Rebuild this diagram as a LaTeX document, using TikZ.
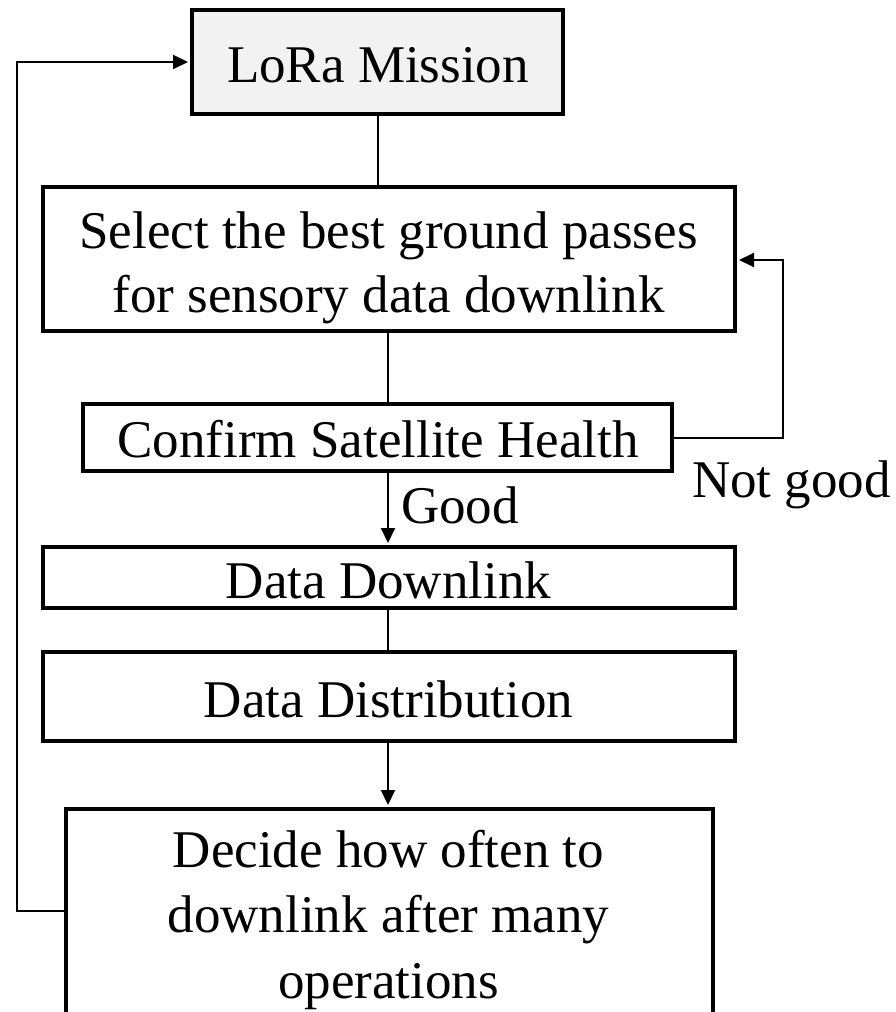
\documentclass[tikz,border=0pt]{standalone}
\usepackage{fontspec}
\setmainfont{Liberation Serif}
\usetikzlibrary{arrows.meta}
\definecolor{boxgray}{HTML}{F2F2F2}
\begin{document}
\begin{tikzpicture}[x=1pt,y=-1pt,
  stagebox/.style={draw=black, line width=4pt, rectangle, inner sep=0pt, minimum width=#1},
  txt/.style={anchor=base, inner sep=0pt, font=\fontsize{53}{64}\selectfont},
  link/.style={line width=2pt},
  flow/.style={line width=2pt, -{Triangle[length=15pt,width=14pt]}, shorten >=2pt}
]
\useasboundingbox (0,0) rectangle (896,1012);
\clip (0,0) rectangle (896,1012);

% process boxes
\node[stagebox=371pt, minimum height=104pt, fill=boxgray] (lora) at (377.5,62) {};
\node[stagebox=692pt, minimum height=144pt] (sel)  at (389,259) {};
\node[stagebox=589pt, minimum height=67pt]  (conf) at (377.5,437.5) {};
\node[stagebox=692pt, minimum height=61pt]  (down) at (389,577.5) {};
\node[stagebox=692pt, minimum height=89pt]  (dist) at (389,696.5) {};
\node[stagebox=647pt, minimum height=231pt] (dec)  at (389.5,924.5) {};

% box texts
\node[txt] (tlora) at (378,82) {LoRa Mission};
\node[txt] (tsel1) at (388.5,248) {Select the best ground passes};
\node[txt] (tsel2) at (388.5,312) {for sensory data downlink};
\node[txt] (tconf) at (378,457) {Confirm Satellite Health};
\node[txt] (tdown) at (388.5,598) {Data Downlink};
\node[txt] (tdist) at (388.5,717) {Data Distribution};
\node[txt] (tdec1) at (388.5,867) {Decide how often to};
\node[txt] (tdec2) at (388.5,932) {downlink after many};
\node[txt] (tdec3) at (388.5,998) {operations};

% branch labels
\node[txt, anchor=base west] (good) at (401,523) {Good};
\node[txt, anchor=base west] (notgood) at (692,497) {Not good};

% vertical spine of the flow
\coordinate (spine) at (388,0);
\coordinate (loopR) at (783,0);
\coordinate (loopL) at (17,0);

\draw[link] (lora.south) -- (lora.south |- sel.north);
\draw[link] (spine |- sel.south) -- (spine |- conf.north);
\draw[flow] (spine |- conf.south) -- (spine |- down.north);
\draw[link] (spine |- down.south) -- (spine |- dist.north);
\draw[flow] (spine |- dist.south) -- (spine |- dec.north);

% retry loop when health is not good
\draw[flow] (conf.east) -- (conf.east -| loopR) |- ([yshift=-1pt]sel.east);

% return from the decision to the mission
\coordinate (decL) at ([yshift=13.5pt]dec.west);
\draw[flow] (decL) -- (decL -| loopL) |- (lora.west);
\end{tikzpicture}
\end{document}
